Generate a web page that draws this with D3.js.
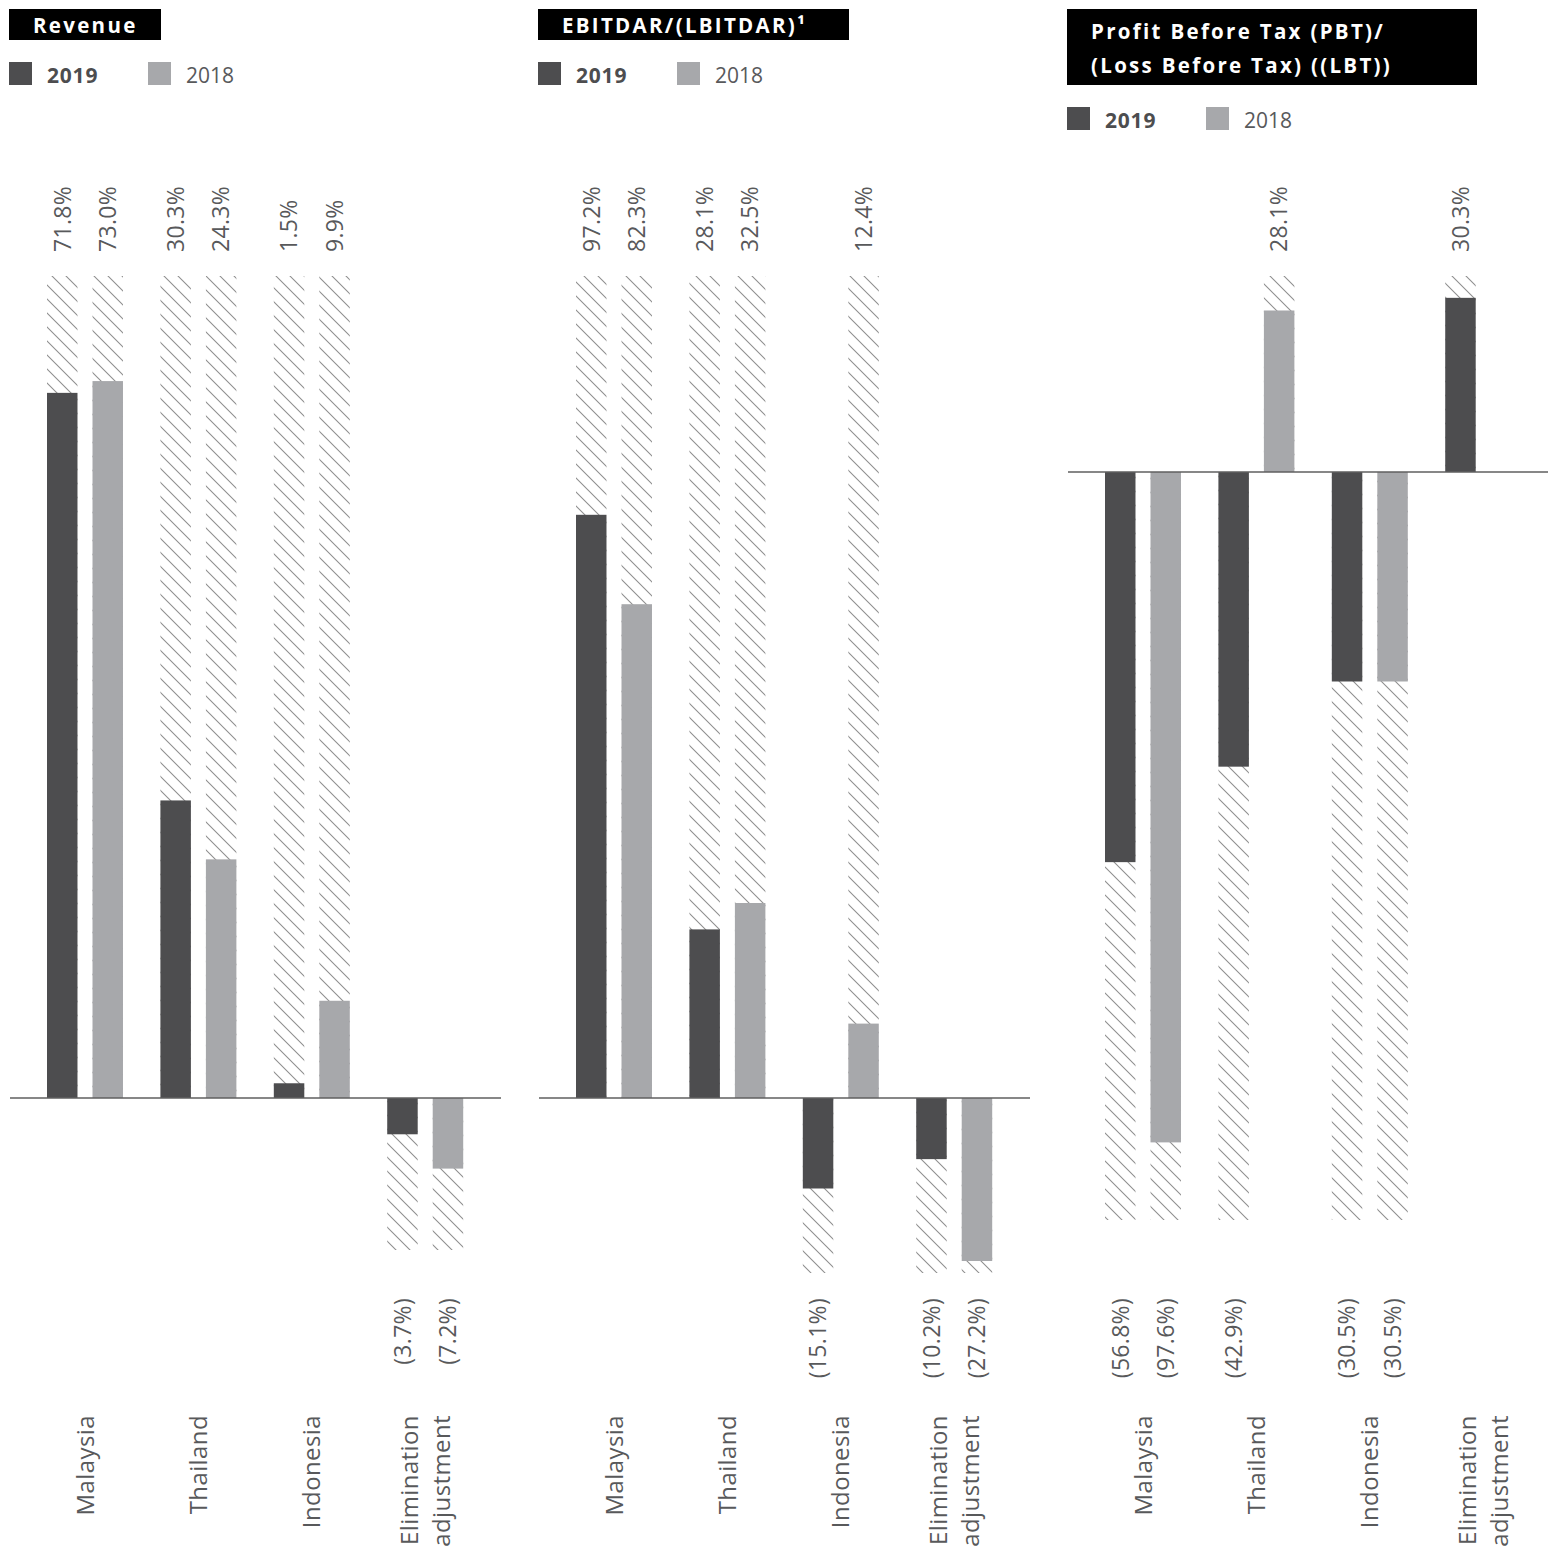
<!DOCTYPE html>
<html><head><meta charset="utf-8">
<script src="https://cdn.jsdelivr.net/npm/d3@7"></script>
<style>body{margin:0;background:#fff} svg{display:block}</style>
</head><body>
<svg id="chart" width="1548" height="1551"></svg>
<script>
// ---- data ----
const categories = ["Malaysia", "Thailand", "Indonesia", "Elimination adjustment"];
const years = ["2019", "2018"];
const revenue2019 = [71.8, 30.3, 1.5, -3.7];
const revenue2018 = [73.0, 24.3, 9.9, -7.2];
const ebitdar2019 = [97.2, 28.1, -15.1, -10.2];
const ebitdar2018 = [82.3, 32.5, 12.4, -27.2];
const pbt2019 = [-56.8, -42.9, -30.5, 30.3];
const pbt2018 = [-97.6, 28.1, -30.5, null];
const titleRevenue = ["Revenue"];
const titleEbitdar = ["EBITDAR/(LBITDAR)¹"];
const titlePbt = ["Profit Before Tax (PBT)/", "(Loss Before Tax) ((LBT))"];

// ---- layout / style ----
const C19 = "#4d4d4f", C18 = "#a7a8ab", TXT = "#58595b";
const FONT = "'Open Sans', 'Noto Sans', sans-serif";
const panels = [
  {title: titleRevenue, s: [revenue2019, revenue2018], domain: [-15.5, 0, 83.7], range: [1250, 1098, 276], x0: 9, boxW: 152, boxH: 31, legendY: 62},
  {title: titleEbitdar, s: [ebitdar2019, ebitdar2018], domain: [-29.2, 0, 137], range: [1273, 1098, 276], x0: 538, boxW: 311, boxH: 31, legendY: 62},
  {title: titlePbt, s: [pbt2019, pbt2018], domain: [-108.9, 0, 34.1], range: [1220, 472, 276], x0: 1067, boxW: 410, boxH: 76, legendY: 107}
];

const svg = d3.select("#chart");
const defs = svg.append("defs");
const pat = defs.append("pattern").attr("id", "hatch").attr("patternUnits", "userSpaceOnUse")
  .attr("width", 14).attr("height", 14);
pat.append("path").attr("d", "M0,0 L14,14 M-3,11 L3,17 M11,-3 L17,3")
  .attr("stroke", "#8f8f8f").attr("stroke-width", 1.1).attr("fill", "none");

const fmt = v => v >= 0 ? v.toFixed(1) + "%" : "(" + Math.abs(v).toFixed(1) + "%)";

panels.forEach(p => {
  const g = svg.append("g");
  const y = d3.scaleLinear().domain(p.domain).range(p.range);
  const x = d3.scaleBand().domain(categories).range([p.x0 + 38, p.x0 + 38 + 416.2]).paddingInner(0.33);
  const xs = d3.scaleBand().domain(years).range([0, x.bandwidth()]).paddingInner(0.33);
  const [yMin, , yMax] = p.domain;

  // title
  g.append("rect").attr("x", p.x0).attr("y", 9).attr("width", p.boxW).attr("height", p.boxH).attr("fill", "#000");
  p.title.forEach((t, i) => {
    g.append("text").attr("x", p.x0 + 24).attr("y", p.title.length > 1 ? 38.5 + i * 34 : 33)
      .attr("fill", "#fff").attr("font-family", FONT).attr("font-weight", 700).attr("font-size", 20.5)
      .attr("letter-spacing", 2.3).text(t);
  });

  // legend
  years.forEach((yr, i) => {
    const lx = p.x0 + i * 139;
    g.append("rect").attr("x", lx).attr("y", p.legendY).attr("width", 23).attr("height", 23).attr("fill", i === 0 ? C19 : C18);
    g.append("text").attr("x", lx + 38).attr("y", p.legendY + 21)
      .attr("fill", i === 0 ? C19 : TXT).attr("font-family", FONT).attr("font-weight", i === 0 ? 700 : 400)
      .attr("font-size", 21).attr("letter-spacing", i === 0 ? 0.8 : 0).text(yr);
  });

  const items = [];
  categories.forEach((c, ci) => {
    years.forEach((yr, yi) => {
      const v = p.s[yi][ci];
      if (v === null || v === undefined) return;
      items.push({c, yr, v, x: x(c) + xs(yr), w: xs.bandwidth()});
    });
  });

  // hatch columns
  g.selectAll(".hatch").data(items).join("rect")
    .attr("x", d => d.x).attr("width", d => d.w)
    .attr("y", d => d.v >= 0 ? y(yMax) : y(0))
    .attr("height", d => d.v >= 0 ? y(0) - y(yMax) : y(yMin) - y(0))
    .attr("fill", "url(#hatch)");

  // bars
  g.selectAll(".bar").data(items).join("rect")
    .attr("x", d => d.x).attr("width", d => d.w)
    .attr("y", d => Math.min(y(d.v), y(0)))
    .attr("height", d => Math.abs(y(d.v) - y(0)))
    .attr("fill", d => d.yr === "2019" ? C19 : C18);

  // zero line
  g.append("line").attr("x1", p.x0 + 1).attr("x2", p.x0 + 492).attr("y1", y(0)).attr("y2", y(0))
    .attr("stroke", "#5f5f5f").attr("stroke-width", 1.5);

  // value labels
  g.selectAll(".val").data(items).join("text")
    .attr("transform", d => `translate(${d.x + d.w / 2},${d.v >= 0 ? 252 : 1298}) rotate(-90)`)
    .attr("dy", "0.36em")
    .attr("text-anchor", d => d.v >= 0 ? "start" : "end")
    .attr("fill", TXT).attr("font-family", FONT).attr("font-weight", 400).attr("font-size", 23)
    .attr("letter-spacing", 0.3)
    .text(d => fmt(d.v));

  // category labels
  categories.forEach(c => {
    const lines = c.split(" ");
    const cx = x(c) + x.bandwidth() / 2;
    lines.forEach((ln, li) => {
      const off = (li - (lines.length - 1) / 2) * 32;
      g.append("text")
        .attr("transform", `translate(${cx + off},1415) rotate(-90)`)
        .attr("dy", "0.36em").attr("text-anchor", "end")
        .attr("fill", TXT).attr("font-family", FONT).attr("font-weight", 400).attr("font-size", 24)
        .attr("letter-spacing", 0.4)
        .text(ln);
    });
  });
});
</script>
</body></html>
